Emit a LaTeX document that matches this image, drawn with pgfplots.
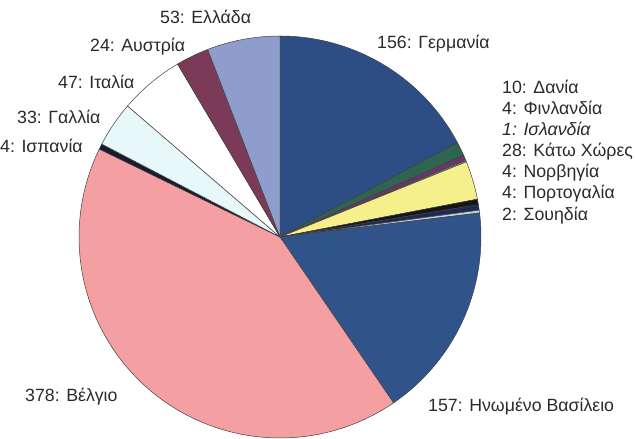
\documentclass[border=0pt]{standalone}
\usepackage{fontspec}
\setmainfont{Liberation Sans}
\usepackage{pgfplots}
\pgfplotsset{compat=1.18}
\definecolor{cGer}{HTML}{2D4E85}
\definecolor{cDen}{HTML}{2E6450}
\definecolor{cFin}{HTML}{6B3565}
\definecolor{cIce}{HTML}{6FB0B0}
\definecolor{cNet}{HTML}{F6F08C}
\definecolor{cNor}{HTML}{161616}
\definecolor{cPor}{HTML}{1E2A50}
\definecolor{cSwe}{HTML}{C5D2EA}
\definecolor{cUK}{HTML}{30548A}
\definecolor{cBel}{HTML}{F4A0A2}
\definecolor{cSpa}{HTML}{1B1B30}
\definecolor{cFra}{HTML}{E8F8F8}
\definecolor{cIta}{HTML}{FFFFFF}
\definecolor{cAus}{HTML}{7B3B58}
\definecolor{cGre}{HTML}{8E9DCC}
\definecolor{txt}{HTML}{2A2A2A}
\def\cx{280}\def\cy{201}\def\R{201}\def\tot{905}
\def\cum{0}
\newcommand\slice[2]{%
  \pgfmathsetmacro\aS{90-\cum/\tot*360}%
  \pgfmathsetmacro\aE{90-(\cum+#1)/\tot*360}%
  \pgfmathsetmacro\newcum{\cum+#1}\xdef\cum{\newcum}%
  \edef\tmp{\noexpand\addplot[draw=black!75, line width=0.5bp, fill=#2, domain=\aE:\aS, samples=80, variable=\noexpand\t]
    ({\cx+\R*cos(\noexpand\t)},{\cy+\R*sin(\noexpand\t)}) -- (axis cs:\cx,\cy) -- cycle;}%
  \tmp}
\newcommand\lab[3]{\node[anchor=base west, inner sep=0pt, text=txt, font=\fontsize{17.8}{21}\selectfont] at (axis cs:#1,#2) {#3};}
\begin{document}
\begin{tikzpicture}
\begin{axis}[x=1bp, y=1bp, xmin=0, xmax=635, ymin=0, ymax=438, hide axis, scale only axis, clip=false]
\addplot[draw=none] coordinates {(0,0) (635,438)};
\slice{156}{cGer}
\slice{10}{cDen}
\slice{4}{cFin}
\slice{1}{cIce}
\slice{28}{cNet}
\slice{4}{cNor}
\slice{4}{cPor}
\slice{2}{cSwe}
\slice{157}{cUK}
\slice{378}{cBel}
\slice{4}{cSpa}
\slice{33}{cFra}
\slice{47}{cIta}
\slice{24}{cAus}
\slice{53}{cGre}
\lab{160}{414}{53: Ελλάδα}
\lab{90}{386}{24: Αυστρία}
\lab{58}{349}{47: Ιταλία}
\lab{17}{314}{33: Γαλλία}
\lab{0}{285}{4: Ισπανία}
\lab{377}{389}{156: Γερμανία}
\lab{502}{344}{10: Δανία}
\lab{502}{323}{4: Φινλανδία}
\lab{502}{302}{\itshape 1: Ισλανδία}
\lab{502}{281}{28: Κάτω Χώρες}
\lab{502}{260}{4: Νορβηγία}
\lab{502}{239}{4: Πορτογαλία}
\lab{502}{217}{2: Σουηδία}
\lab{25}{37}{378: Βέλγιο}
\lab{428}{27}{157: Ηνωμένο Βασίλειο}
\end{axis}
\end{tikzpicture}
\end{document}
